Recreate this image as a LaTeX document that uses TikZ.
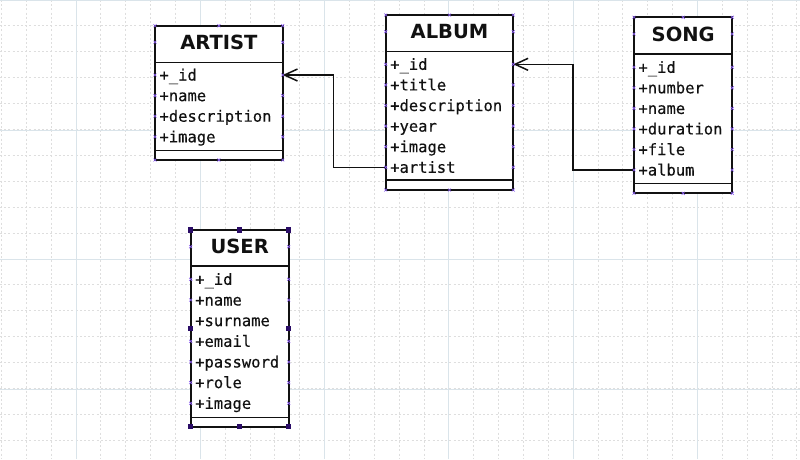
\documentclass[tikz,border=0pt]{standalone}
\usepackage{fontspec}
\setmainfont{DejaVu Sans}
\newfontfamily\rowfont{DejaVu Sans Mono}[UprightFeatures={FakeBold=0.3}]
\usetikzlibrary{arrows.meta}
\definecolor{gridminor}{HTML}{DEDEDE}
\definecolor{gridmajor}{HTML}{DAE4EA}
\definecolor{mkcol}{HTML}{8A5CF0}
\definecolor{hdl}{HTML}{2A0C66}
\definecolor{ink}{HTML}{111111}
\begin{document}
\begin{tikzpicture}[x=1pt,y=-1pt,
  umlbox/.style={draw=ink, line width=2pt, fill=white, inner sep=0pt, outer sep=0pt, anchor=north west},
  sepline/.style={draw=ink, line width=1.5pt},
  ttl/.style={font=\fontsize{19.5}{20}\selectfont\bfseries, text=ink, inner sep=0pt},
  row/.style={font=\fontsize{15.5}{16}\selectfont\rowfont, text=ink, anchor=west, inner xsep=4.5pt, inner ysep=0pt, outer sep=0pt, text height=11pt, text depth=0pt, align=left, text width=#1},
  conn/.style={draw=ink, line width=1.6pt},
  tip/.style={-{Straight Barb[length=13pt,width=12pt,line width=1.5pt]}},
  minor/.style={draw=gridminor, line width=0.9pt, dash pattern=on 2pt off 2.2pt},
  major/.style={draw=gridmajor, line width=1pt},
  mk/.style={draw=mkcol, line width=0.6pt},
  cpx/.pic={\draw[mk] (-1.5,-1.5) -- (1.5,1.5) (-1.5,1.5) -- (1.5,-1.5);},
  hnd/.pic={\fill[hdl] (-2.6,-2.6) rectangle (2.6,2.6);}
]
\useasboundingbox (0,0) rectangle (800,459);
\fill[white] (0,0) rectangle (800,459);
% grid
\foreach \i in {0,...,32} \draw[minor] ({1.4+24.86*\i},0) -- ({1.4+24.86*\i},459);
\foreach \j in {1,...,17} \draw[minor] (0,{25.9*\j}) -- (800,{25.9*\j});
\foreach \i in {0,...,5} \draw[major] ({76+124.3*\i},0) -- ({76+124.3*\i},459);
\foreach \j in {0,...,3} \draw[major] (0,{0.6+129.5*\j}) -- (800,{0.6+129.5*\j});

% ARTIST
\node[umlbox, minimum width=127.7pt, minimum height=134.3pt] (artist) at (155,25.7) {};
\draw[sepline] (155,62.3) -- (282.7,62.3);
\draw[sepline] (155,150.7) -- (282.7,150.7);
\node[ttl] (artistT) at (218.9,42.3) {ARTIST};
\node[row=118.7pt] (arId) at (155,75) {+\_id};
\node[row=118.7pt] (arName) at (155,95.6) {+name};
\node[row=118.7pt] (arDesc) at (155,116.2) {+description};
\node[row=118.7pt] (arImg) at (155,136.8) {+image};

% ALBUM
\node[umlbox, minimum width=127.6pt, minimum height=175pt] (album) at (385.7,15) {};
\draw[sepline] (385.7,51.7) -- (513.3,51.7);
\draw[sepline] (385.7,180) -- (513.3,180);
\node[ttl] (albumT) at (449.5,31.7) {ALBUM};
\node[row=118.6pt] (alId) at (385.7,64.3) {+\_id};
\node[row=118.6pt] (alTitle) at (385.7,84.9) {+title};
\node[row=118.6pt] (alDesc) at (385.7,105.5) {+description};
\node[row=118.6pt] (alYear) at (385.7,126.1) {+year};
\node[row=118.6pt] (alImg) at (385.7,146.7) {+image};
\node[row=118.6pt] (alArtist) at (385.7,167.3) {+artist};

% SONG
\node[umlbox, minimum width=98.3pt, minimum height=176pt] (song) at (634,17.3) {};
\draw[sepline] (634,54) -- (732.3,54);
\draw[sepline] (634,183.3) -- (732.3,183.3);
\node[ttl] (songT) at (683.2,34) {SONG};
\node[row=89.3pt] (sgId) at (634,67.3) {+\_id};
\node[row=89.3pt] (sgNum) at (634,87.8) {+number};
\node[row=89.3pt] (sgName) at (634,108.4) {+name};
\node[row=89.3pt] (sgDur) at (634,128.9) {+duration};
\node[row=89.3pt] (sgFile) at (634,149.5) {+file};
\node[row=89.3pt] (sgAlbum) at (634,170) {+album};

% USER
\node[umlbox, minimum width=98pt, minimum height=196.7pt] (user) at (190.7,230) {};
\draw[sepline] (190.7,266) -- (288.7,266);
\draw[sepline] (190.7,417.3) -- (288.7,417.3);
\node[ttl] (userT) at (239.7,246.7) {USER};
\node[row=89pt] (usId) at (190.7,279.3) {+\_id};
\node[row=89pt] (usName) at (190.7,300) {+name};
\node[row=89pt] (usSur) at (190.7,320.6) {+surname};
\node[row=89pt] (usMail) at (190.7,341.3) {+email};
\node[row=89pt] (usPass) at (190.7,362) {+password};
\node[row=89pt] (usRole) at (190.7,382.6) {+role};
\node[row=89pt] (usImg) at (190.7,403.3) {+image};

% connectors
\draw[conn, tip] (alArtist.west) -- ++(-52.4,0) |- (arId.east);
\draw[conn, tip] (sgAlbum.west) -- ++(-61,0) |- (alId.east);

% connection point marks
\foreach \y in {42.3,75,95.6,116.2,136.8} { \pic at (155,\y) {cpx}; \pic at (282.7,\y) {cpx}; }
\foreach \x in {155,218.9,282.7} { \pic at (\x,25.7) {cpx}; \pic at (\x,160) {cpx}; }
\foreach \y in {31.7,64.3,84.9,105.5,126.1,146.7,167.3} { \pic at (385.7,\y) {cpx}; \pic at (513.3,\y) {cpx}; }
\foreach \x in {385.7,449.5,513.3} { \pic at (\x,15) {cpx}; \pic at (\x,190) {cpx}; }
\foreach \y in {34,67.3,87.8,108.4,128.9,149.5,170} { \pic at (634,\y) {cpx}; \pic at (732.3,\y) {cpx}; }
\foreach \x in {634,683.2,732.3} { \pic at (\x,17.3) {cpx}; \pic at (\x,193.3) {cpx}; }
\foreach \y in {246.7,279.3,300,341.3,362,382.6,403.3} { \pic at (190.7,\y) {cpx}; \pic at (288.7,\y) {cpx}; }

% selection handles on USER
\foreach \x in {190.7,239.7,288.7} { \pic at (\x,230) {hnd}; \pic at (\x,426.7) {hnd}; }
\pic at (190.7,328.3) {hnd};
\pic at (288.7,328.3) {hnd};
\end{tikzpicture}
\end{document}
